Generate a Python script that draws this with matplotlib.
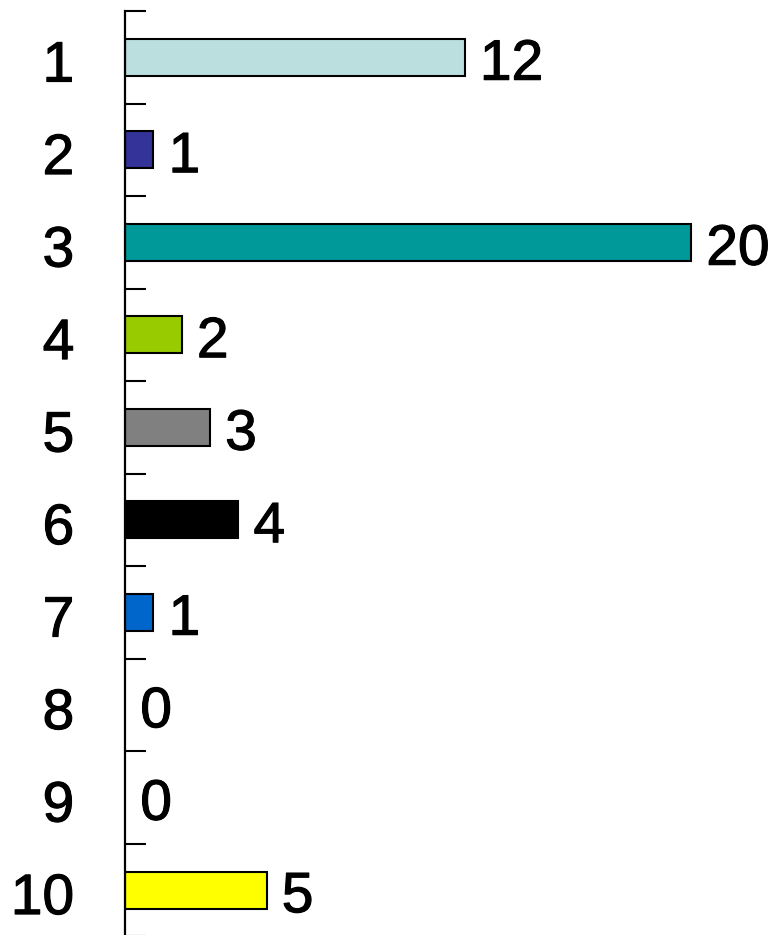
import numpy as np
import matplotlib
matplotlib.use("Agg")
import matplotlib.pyplot as plt
import matplotlib.patheffects as pe

categories = ["1", "2", "3", "4", "5", "6", "7", "8", "9", "10"]
values = [12, 1, 20, 2, 3, 4, 1, 0, 0, 5]
colors = ["#BBDFDF", "#333399", "#009999", "#99CC00", "#808080",
          "#000000", "#0066CC", "#FFFFFF", "#FFFFFF", "#FFFF00"]

plt.rcParams['font.family'] = ['Liberation Sans', 'DejaVu Sans']
fsize = 41
heavy = [pe.withStroke(linewidth=0.8, foreground="black")]

fig = plt.figure(figsize=(7.71, 9.35), dpi=100)
# axes placed in pixel terms: axis line at x=125, top at y=11
ax = fig.add_axes([125 / 771, -1.25 / 935, (771 - 125) / 771, 925 / 935])

n = len(categories)
pos = np.arange(n)
bars = ax.barh(pos, values, height=0.4, color=colors, edgecolor="black", linewidth=1.5)
for b, v in zip(bars, values):
    if v == 0:
        b.set_visible(False)

ax.set_ylim(n - 0.5, -0.5)
ax.set_xlim(0, 646 / 28.3)

# value labels after each bar
for i, v in enumerate(values):
    ax.annotate(str(v), (v, i + 0.24), xytext=(11, 0), textcoords="offset points",
                va="baseline", ha="left", fontsize=fsize, path_effects=heavy)

# category labels left of the axis
ytr = ax.get_yaxis_transform()
for i, c in enumerate(categories):
    ax.annotate(c, (0, i + 0.26), xycoords=ytr, xytext=(-36.5, 0), textcoords="offset points",
                va="baseline", ha="right", fontsize=fsize, path_effects=heavy,
                annotation_clip=False)

for s in ["top", "right", "bottom"]:
    ax.spines[s].set_visible(False)
ax.spines["left"].set_linewidth(1.6)
ax.set_xticks([])

ax.set_yticks(np.arange(-0.5, n + 0.5, 1))
ax.set_yticklabels([])
ax.tick_params(axis="y", direction="in", length=15, width=1.5)

fig.savefig("out.png", dpi=100)
